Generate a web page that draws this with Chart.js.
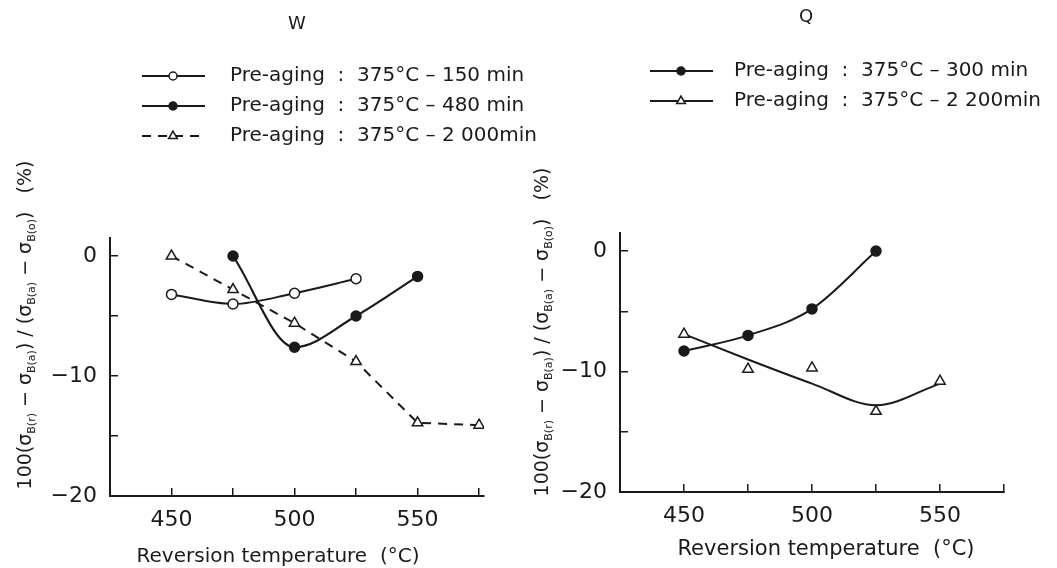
<!DOCTYPE html>
<html>
<head>
<meta charset="utf-8">
<script src="https://cdn.jsdelivr.net/npm/chart.js@4.4.0/dist/chart.umd.min.js"></script>
<style>
  html, body { margin: 0; padding: 0; background: #fff; }
  #wrap { position: relative; width: 1057px; height: 568px; overflow: hidden; }
  #chartW { position: absolute; left: 0; top: 0; }
  #chartQ { position: absolute; left: 527px; top: 0; }
</style>
</head>
<body>
<div id="wrap">
  <canvas id="chartW" width="570" height="568"></canvas>
  <canvas id="chartQ" width="530" height="568"></canvas>
</div>
<script>
// axis ticks (only some of them carry a label)
const xTicks = [450, 475, 500, 525, 550, 575];
const xLabelled = [450, 500, 550];
const yTicks = [-20, -15, -10, -5, 0];
const yLabelled = [-20, -10, 0];

// W
const wTemp150 = [450, 475, 500, 525];
const wVal150 = [-3.2, -4.0, -3.1, -1.9];
const wTemp480 = [475, 500, 525, 550];
const wVal480 = [0, -7.6, -5.0, -1.7];
const wTemp2000 = [450, 475, 500, 525, 550, 575];
const wVal2000 = [0, -2.8, -5.6, -8.8, -13.9, -14.1];

// Q
const qTemp300 = [450, 475, 500, 525];
const qVal300 = [-8.3, -7.0, -4.8, 0];
const qTemp2200 = [450, 475, 500, 525, 550];
const qVal2200 = [-6.9, -9.8, -9.7, -13.3, -10.8];
const qFit2200 = [-6.9, -9.0, -11.0, -12.8, -11.0]; // trend curve drawn through the triangles

const FONT = '"DejaVu Sans", sans-serif';
const INK = '#1a1a1a';

const yTitleParts = [
  ['100(σ', 0], ['B(r)', 1], [' − σ', 0], ['B(a)', 1], [') / (σ', 0],
  ['B(a)', 1], [' − σ', 0], ['B(o)', 1], [')   (%)', 0]
];

const pts = (xs, ys) => xs.map((x, i) => ({ x: x, y: ys[i] }));

function drawRotatedTitle(ctx, cx, cy, size) {
  const sub = Math.round(size * 0.6);
  ctx.save();
  ctx.translate(cx, cy);
  ctx.rotate(-Math.PI / 2);
  ctx.textAlign = 'left';
  ctx.textBaseline = 'middle';
  let total = 0;
  yTitleParts.forEach(p => {
    ctx.font = `${p[1] ? sub : size}px ${FONT}`;
    total += ctx.measureText(p[0]).width;
  });
  let x = -total / 2;
  yTitleParts.forEach(p => {
    ctx.font = `${p[1] ? sub : size}px ${FONT}`;
    ctx.fillText(p[0], x, p[1] ? size * 0.3 : 0);
    x += ctx.measureText(p[0]).width;
  });
  ctx.restore();
}

// titles, legend and axis titles are placed by hand like in the figure
const decor = {
  id: 'decor',
  afterDraw(chart, args, o) {
    const ctx = chart.ctx;
    ctx.save();
    ctx.fillStyle = INK;
    ctx.strokeStyle = INK;
    ctx.textBaseline = 'middle';

    ctx.font = `18px ${FONT}`;
    ctx.textAlign = 'center';
    ctx.fillText(o.title, o.titleX, o.titleY);

    let row = 0;
    chart.data.datasets.forEach(ds => {
      if (!ds.label) return;
      const y = o.legendY + row * o.legendStep;
      ctx.save();
      ctx.lineWidth = 2;
      ctx.setLineDash(ds.borderDash || []);
      ctx.beginPath();
      ctx.moveTo(o.legendX, y);
      ctx.lineTo(o.legendX + 63, y);
      ctx.stroke();
      ctx.setLineDash([]);
      ctx.fillStyle = ds.pointBackgroundColor;
      ctx.lineWidth = ds.pointBorderWidth;
      Chart.helpers.drawPoint(ctx, {
        pointStyle: ds.pointStyle, rotation: 0,
        radius: ds.pointRadius - 1, borderWidth: ds.pointBorderWidth
      }, o.legendX + 31, y);
      ctx.restore();
      ctx.font = `${o.legendSize}px ${FONT}`;
      ctx.textAlign = 'left';
      ctx.fillText(ds.label, o.legendTextX, y);
      row++;
    });

    ctx.font = `${o.xTitleSize}px ${FONT}`;
    ctx.textAlign = 'center';
    ctx.fillText('Reversion temperature  (°C)', o.xTitleX, o.xTitleY);

    drawRotatedTitle(ctx, o.yTitleX, o.yTitleY, 19);
    ctx.restore();
  }
};

function axes(xMax, yWidth, xHeight) {
  return {
    x: {
      type: 'linear', min: 425, max: xMax,
      afterBuildTicks: s => { s.ticks = xTicks.map(v => ({ value: v })); },
      afterFit: s => { s.height = xHeight; },
      ticks: {
        autoSkip: false, maxRotation: 0, padding: 19, color: INK,
        font: { family: FONT, size: 22 },
        callback: v => xLabelled.includes(v) ? String(v) : ''
      },
      grid: { drawOnChartArea: false, tickLength: -8, color: INK, lineWidth: 1.5 },
      border: { color: INK, width: 2 }
    },
    y: {
      type: 'linear', min: -20, max: 1.5,
      afterBuildTicks: s => { s.ticks = yTicks.map(v => ({ value: v })); },
      afterFit: s => { s.width = yWidth; },
      ticks: {
        padding: 21, color: INK,
        font: { family: FONT, size: 22 },
        callback: v => yLabelled.includes(v) ? (v < 0 ? '−' + Math.abs(v) : String(v)) : ''
      },
      grid: { drawOnChartArea: false, tickLength: -8, color: INK, lineWidth: 1.5 },
      border: { color: INK, width: 2 }
    }
  };
}

const openCircle = { pointStyle: 'circle', pointRadius: 5, pointBackgroundColor: '#fff', pointBorderColor: INK, pointBorderWidth: 1.5 };
const fullCircle = { pointStyle: 'circle', pointRadius: 5, pointBackgroundColor: INK, pointBorderColor: INK, pointBorderWidth: 1.5 };
const openTriangle = { pointStyle: 'triangle', pointRadius: 6, pointBackgroundColor: '#fff', pointBorderColor: INK, pointBorderWidth: 1.5 };

const baseOptions = {
  responsive: false,
  animation: false,
  events: [],
  plugins: { legend: { display: false }, tooltip: { enabled: false }, title: { display: false } }
};

new Chart(document.getElementById('chartW'), {
  type: 'line',
  data: {
    datasets: [
      Object.assign({
        label: 'Pre-aging  :  375°C – 150 min',
        data: pts(wTemp150, wVal150),
        borderColor: INK, borderWidth: 2, cubicInterpolationMode: 'monotone'
      }, openCircle),
      Object.assign({
        label: 'Pre-aging  :  375°C – 480 min',
        data: pts(wTemp480, wVal480),
        borderColor: INK, borderWidth: 2.2, cubicInterpolationMode: 'monotone'
      }, fullCircle),
      Object.assign({
        label: 'Pre-aging  :  375°C – 2 000min',
        data: pts(wTemp2000, wVal2000),
        borderColor: INK, borderWidth: 2, borderDash: [9, 7], tension: 0
      }, openTriangle)
    ]
  },
  options: Object.assign({}, baseOptions, {
    layout: { padding: { top: 238, left: 0, right: 86, bottom: 0 } },
    scales: axes(577, 110, 72),
    plugins: Object.assign({}, baseOptions.plugins, {
      decor: {
        title: 'W', titleX: 297, titleY: 24,
        legendX: 142, legendY: 76, legendStep: 30, legendTextX: 230, legendSize: 20,
        xTitleX: 278, xTitleY: 557, xTitleSize: 20,
        yTitleX: 26, yTitleY: 325
      }
    })
  }),
  plugins: [decor]
});

new Chart(document.getElementById('chartQ'), {
  type: 'line',
  data: {
    datasets: [
      Object.assign({
        label: 'Pre-aging  :  375°C – 300 min',
        data: pts(qTemp300, qVal300),
        borderColor: INK, borderWidth: 2, cubicInterpolationMode: 'monotone'
      }, fullCircle),
      Object.assign({
        label: 'Pre-aging  :  375°C – 2 200min',
        data: pts(qTemp2200, qVal2200),
        borderColor: INK, borderWidth: 2, showLine: false
      }, openTriangle),
      {
        data: pts(qTemp2200, qFit2200),
        borderColor: INK, borderWidth: 2, pointRadius: 0,
        cubicInterpolationMode: 'monotone', order: 5
      }
    ]
  },
  options: Object.assign({}, baseOptions, {
    layout: { padding: { top: 233, left: 0, right: 53, bottom: 0 } },
    scales: axes(575, 93, 76),
    plugins: Object.assign({}, baseOptions.plugins, {
      decor: {
        title: 'Q', titleX: 279, titleY: 17,
        legendX: 123, legendY: 71, legendStep: 30, legendTextX: 207, legendSize: 20,
        xTitleX: 299, xTitleY: 550, xTitleSize: 21,
        yTitleX: 16, yTitleY: 332
      }
    })
  }),
  plugins: [decor]
});
</script>
</body>
</html>
